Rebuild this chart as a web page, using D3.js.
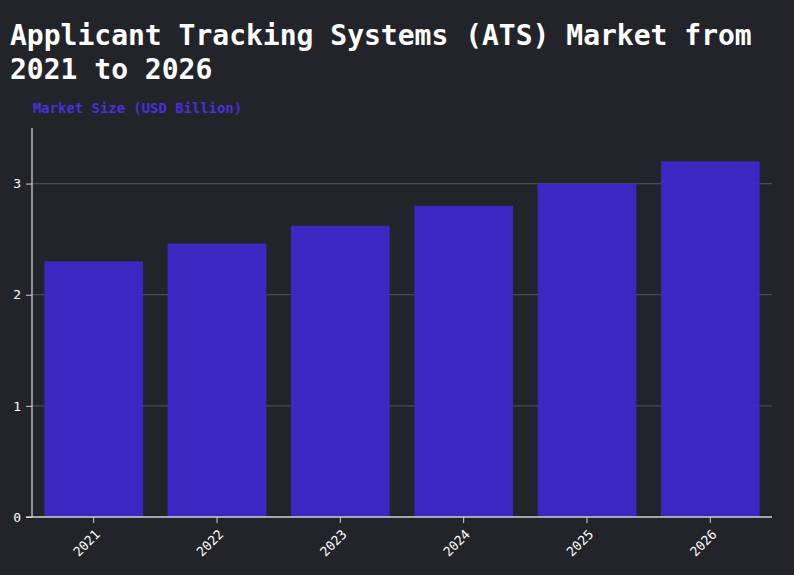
<!DOCTYPE html>
<html><head><meta charset="utf-8">
<script src="https://cdn.jsdelivr.net/npm/d3@7"></script>
<style>
html,body{margin:0;padding:0;background:#232429;}
svg{display:block;}
</style></head>
<body>
<svg id="chart" width="794" height="575"></svg>
<script>
const categories = ["2021","2022","2023","2024","2025","2026"];
const values = [2.3, 2.46, 2.62, 2.8, 3.0, 3.2];
const yTicks = [0, 1, 2, 3];
const titleLines = ["Applicant Tracking Systems (ATS) Market from", "2021 to 2026"];
const yLabel = "Market Size (USD Billion)";

const W = 794, H = 575;
const m = {left: 32, right: 22, top: 128, bottom: 58};
const svg = d3.select("#chart");
svg.append("rect").attr("width", W).attr("height", H).attr("fill", "#232429");

const mono = "'DejaVu Sans Mono', 'Liberation Mono', monospace";

const x = d3.scaleBand().domain(categories).range([m.left, W - m.right]).paddingInner(0.2).paddingOuter(0.1);
const y = d3.scaleLinear().domain([0, 3.5]).range([H - m.bottom, m.top]);

// title
svg.append("text").attr("x", 10).attr("y", 45)
  .attr("font-family", mono).attr("font-weight", "bold").attr("font-size", 28).attr("fill", "#ffffff")
  .selectAll("tspan").data(titleLines).join("tspan")
  .attr("x", 10).attr("dy", (d, i) => i === 0 ? 0 : 34).text(d => d);

// y label
svg.append("text").attr("x", 33).attr("y", 113)
  .attr("font-family", mono).attr("font-weight", "bold").attr("font-size", 13.9).attr("fill", "#4a2fda")
  .text(yLabel);

// gridlines
svg.append("g").selectAll("line").data(yTicks.filter(d => d > 0)).join("line")
  .attr("x1", m.left).attr("x2", W - m.right)
  .attr("y1", d => y(d)).attr("y2", d => y(d))
  .attr("stroke", "#4a4b50").attr("stroke-width", 1.2);

// bars
svg.append("g").selectAll("rect").data(values).join("rect")
  .attr("x", (d, i) => x(categories[i]))
  .attr("width", x.bandwidth())
  .attr("y", d => y(d))
  .attr("height", d => y(0) - y(d))
  .attr("fill", "#3f27cc").attr("fill-opacity", 0.93);

// y axis
const ya = svg.append("g").attr("transform", `translate(${m.left},0)`)
  .call(d3.axisLeft(y).tickValues(yTicks).tickSize(6).tickPadding(5).tickFormat(d3.format("d")));
ya.select(".domain").attr("stroke", "#d0d0d0").attr("stroke-width", 1.3)
  .attr("d", `M0,${m.top}V${y(0)}`);
ya.selectAll(".tick line").attr("stroke", "#d0d0d0");
ya.selectAll(".tick text").attr("fill", "#ffffff").attr("font-family", mono).attr("font-size", 13);

// x axis
const xa = svg.append("g").attr("transform", `translate(0,${y(0)})`)
  .call(d3.axisBottom(x).tickSize(6).tickSizeOuter(0));
xa.select(".domain").attr("stroke", "#d0d0d0").attr("stroke-width", 1.5)
  .attr("d", `M${m.left - 6},0H${W - m.right}`);
xa.selectAll(".tick line").attr("stroke", "#d0d0d0");
xa.selectAll(".tick text").attr("fill", "#ffffff").attr("font-family", mono).attr("font-size", 13)
  .attr("text-anchor", "end").attr("y", 0).attr("dy", "0.35em")
  .attr("transform", "translate(4,15) rotate(-45)");
</script>
</body></html>
